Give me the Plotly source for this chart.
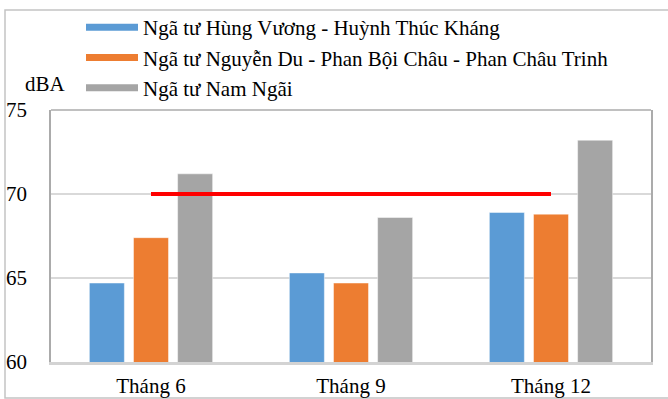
import plotly.graph_objects as go

# Noise levels (dBA) measured at three intersections in three months
months = ["Tháng 6", "Tháng 9", "Tháng 12"]
series_names = [
    "Ngã tư Hùng Vương - Huỳnh Thúc Kháng",
    "Ngã tư Nguyễn Du - Phan Bội Châu - Phan Châu Trinh",
    "Ngã tư Nam Ngãi",
]
hung_vuong = [64.7, 65.3, 68.9]
nguyen_du = [67.4, 64.7, 68.8]
nam_ngai = [71.2, 68.6, 73.2]
limit_value = [70, 70, 70]

colors = ["#5b9bd5", "#ed7d31", "#a5a5a5"]
font_family = "Liberation Serif"

W, H = 668, 399
ML, MR, MT, MB = 51, 17, 110, 37

fig = go.Figure()
for name, vals, col in zip(series_names, [hung_vuong, nguyen_du, nam_ngai], colors):
    fig.add_trace(go.Bar(
        x=months, y=vals, name=name, showlegend=False,
        marker=dict(color=col, line=dict(color="rgba(255,255,255,0.45)", width=1)),
    ))

# Permitted limit line at 70 dBA
fig.add_trace(go.Scatter(
    x=months, y=limit_value, mode="lines", showlegend=False,
    line=dict(color="#ff0000", width=4), cliponaxis=False,
))

# Legend entries drawn as thick line swatches
for name, col in zip(series_names, colors):
    fig.add_trace(go.Scatter(
        x=[None], y=[None], mode="lines", name=name,
        line=dict(color=col, width=7),
    ))

pw = W - ML - MR
ph = H - MT - MB

def px_x(p):
    return (p - ML) / pw

def px_y(p):
    return (H - MB - p) / ph

shapes = [
    # outer chart frame
    dict(type="rect", xref="paper", yref="paper",
         x0=px_x(5), x1=px_x(690), y0=px_y(398), y1=px_y(10),
         line=dict(color="#c4c4c4", width=1.5), layer="below"),
    # top edge of plot frame
    dict(type="line", xref="paper", yref="paper", x0=0, x1=1, y0=1, y1=1,
         line=dict(color="#ababab", width=1.5)),
]

fig.update_layout(
    width=W, height=H,
    margin=dict(l=ML, r=MR, t=MT, b=MB, autoexpand=False),
    paper_bgcolor="white", plot_bgcolor="white",
    barmode="group", bargap=0.338, bargroupgap=0.207,
    font=dict(family=font_family, size=21, color="#000000"),
    showlegend=True,
    legend=dict(
        x=px_x(81), y=px_y(7), xanchor="left", yanchor="top",
        bgcolor="rgba(0,0,0,0)", itemwidth=52, tracegroupgap=0,
        font=dict(family=font_family, size=21, color="#000000"),
        itemclick=False, itemdoubleclick=False,
    ),
    xaxis=dict(
        showline=True, linecolor="#d3d3d3", linewidth=2.5,
        showgrid=False, ticks="", ticklabelstandoff=3, automargin=False,
        tickfont=dict(family=font_family, size=21),
    ),
    yaxis=dict(
        range=[60, 75], dtick=5, tick0=60, automargin=False,
        showline=True, mirror=True, linecolor="#ababab", linewidth=1.5,
        showgrid=True, gridcolor="#d9d9d9", gridwidth=1.5,
        ticks="", ticklabelstandoff=18, zeroline=False,
        tickfont=dict(family=font_family, size=21),
    ),
    shapes=shapes,
    annotations=[dict(
        text="dBA", xref="paper", yref="paper",
        x=px_x(45.5), y=px_y(84), xanchor="center", yanchor="middle",
        showarrow=False, font=dict(family=font_family, size=21),
    )],
)

fig.write_html("out.html")
